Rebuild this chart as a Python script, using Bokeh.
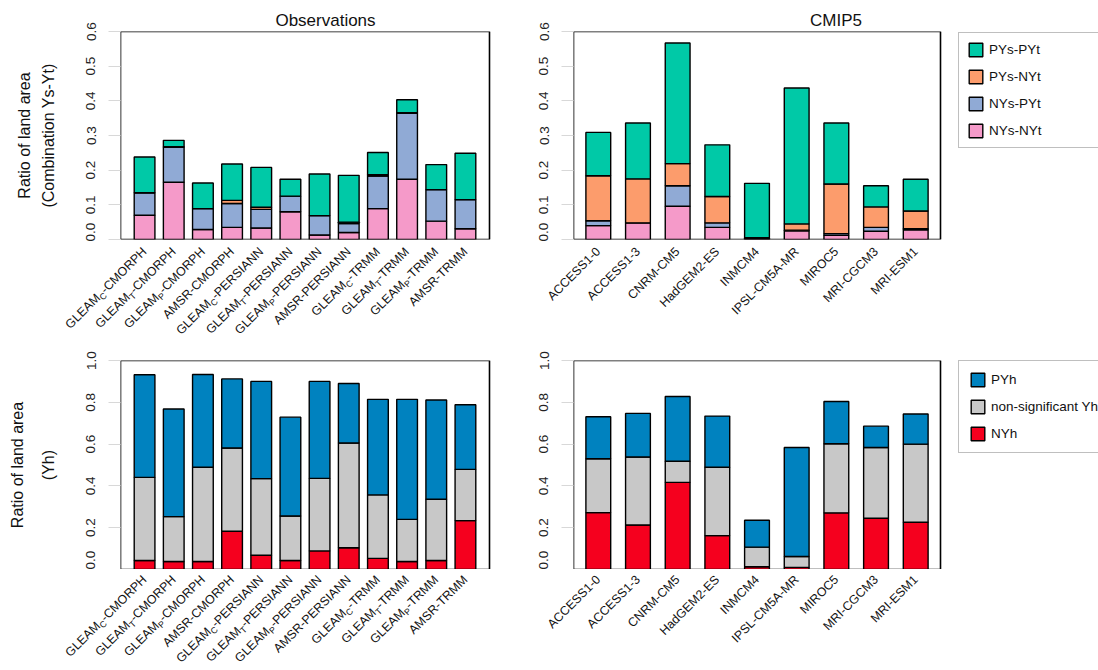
import math
from bokeh.plotting import figure
from bokeh.models import (ColumnDataSource, Range1d, FixedTicker, LabelSet, Legend,
                          LegendItem, PrintfTickFormatter)
from bokeh.layouts import column, row
from bokeh.core.properties import value
from bokeh.embed import file_html
from bokeh.resources import INLINE

# ---------------- data ----------------
obs_labels = ["GLEAM_C-CMORPH", "GLEAM_T-CMORPH", "GLEAM_P-CMORPH", "AMSR-CMORPH",
              "GLEAM_C-PERSIANN", "GLEAM_T-PERSIANN", "GLEAM_P-PERSIANN", "AMSR-PERSIANN",
              "GLEAM_C-TRMM", "GLEAM_T-TRMM", "GLEAM_P-TRMM", "AMSR-TRMM"]
cmip_labels = ["ACCESS1-0", "ACCESS1-3", "CNRM-CM5", "HadGEM2-ES", "INMCM4",
               "IPSL-CM5A-MR", "MIROC5", "MRI-CGCM3", "MRI-ESM1"]

combo_names = ["NYs-NYt", "NYs-PYt", "PYs-NYt", "PYs-PYt"]          # stacking order (bottom -> top)
combo_colors = ["#F59AC9", "#90AAD5", "#FC9C6C", "#00C9A7"]

obs_nys_nyt = [0.070, 0.165, 0.029, 0.035, 0.033, 0.080, 0.013, 0.020, 0.089, 0.174, 0.053, 0.031]
obs_nys_pyt = [0.065, 0.101, 0.060, 0.069, 0.054, 0.045, 0.056, 0.026, 0.094, 0.190, 0.091, 0.084]
obs_pys_nyt = [0.000, 0.002, 0.000, 0.009, 0.006, 0.000, 0.000, 0.004, 0.004, 0.002, 0.000, 0.000]
obs_pys_pyt = [0.103, 0.018, 0.074, 0.105, 0.115, 0.049, 0.120, 0.135, 0.064, 0.037, 0.072, 0.134]

cmip_nys_nyt = [0.040, 0.048, 0.096, 0.035, 0.003, 0.025, 0.012, 0.024, 0.028]
cmip_nys_pyt = [0.014, 0.000, 0.059, 0.013, 0.000, 0.002, 0.005, 0.011, 0.003]
cmip_pys_nyt = [0.130, 0.127, 0.064, 0.076, 0.002, 0.018, 0.143, 0.059, 0.051]
cmip_pys_pyt = [0.125, 0.161, 0.348, 0.149, 0.157, 0.392, 0.176, 0.061, 0.092]

yh_names = ["NYh", "non-significant Yh", "PYh"]                         # stacking order (bottom -> top)
yh_colors = ["#F5001E", "#C8C8C8", "#0082BF"]

obs_nyh = [0.043, 0.038, 0.038, 0.183, 0.068, 0.043, 0.089, 0.104, 0.053, 0.038, 0.043, 0.234]
obs_nsig = [0.398, 0.215, 0.451, 0.398, 0.367, 0.213, 0.347, 0.501, 0.304, 0.202, 0.293, 0.245]
obs_pyh = [0.491, 0.515, 0.444, 0.331, 0.465, 0.473, 0.464, 0.285, 0.457, 0.574, 0.475, 0.309]

cmip_nyh = [0.272, 0.213, 0.417, 0.162, 0.013, 0.010, 0.271, 0.245, 0.226]
cmip_nsig = [0.258, 0.325, 0.101, 0.327, 0.094, 0.052, 0.331, 0.339, 0.374]
cmip_pyh = [0.201, 0.209, 0.310, 0.245, 0.129, 0.522, 0.202, 0.102, 0.144]

top_ticks = [0.0, 0.1, 0.2, 0.3, 0.4, 0.5, 0.6]
bottom_ticks = [0.0, 0.2, 0.4, 0.6, 0.8, 1.0]

# ---------------- layout geometry (pixels) ----------------
FONT = "Liberation Sans"
C45 = math.cos(math.pi / 4)
LABEL_SIZE = 12.4
SUB_SIZE = 8.8
LEFT_W, RIGHT_W = 530, 568
TOP_PLOT_H, TOP_LAB_H = 241, 97
BOT_PLOT_H, BOT_LAB_H = 231, 99
BOT_BT = 22
OBS_PAD, OBS_BW = 0.825, 0.71
CM_PAD, CM_BW = 0.625, 0.625
L_BL, L_FW = 120, 369          # left panels: border left, box width
R_BL, R_FW = 43, 367           # right panels: border left, box width

AW = {'-': 333, 'A': 667, 'C': 722, 'E': 667, 'G': 778, 'H': 722, 'I': 278, 'L': 556,
      'M': 833, 'N': 722, 'O': 778, 'P': 667, 'R': 722, 'S': 667, 'T': 611}


def tw(s, size):
    return sum(AW.get(ch, 556) for ch in s) * size / 1000.0


def split_label(lab):
    if "_" in lab:
        base, rest = lab.split("_", 1)
        return base, rest[0], rest[1:]
    return "", "", lab


def label_band(labels, pad, bl, fw, total_w, h, drop=8.0, s=4.0):
    n = len(labels)
    ppu = fw / (n - 1 + 2 * pad)
    x0 = -pad - bl / ppu
    x1 = x0 + total_w / ppu
    p = figure(x_range=Range1d(x0, x1), y_range=Range1d(0, h), width=total_w, height=h,
               toolbar_location=None, output_backend="svg", x_axis_location=None,
               y_axis_location=None, min_border=0)
    p.grid.visible = False
    p.outline_line_color = None
    p.background_fill_color = "white"
    p.border_fill_color = "white"
    xs = list(range(n))
    parts = [split_label(l) for l in labels]
    suf = dict(x=xs, y=[h] * n, text=[q[2] for q in parts], xo=[0.0] * n, yo=[-drop] * n)
    subx, suby, basex, basey = [], [], [], []
    for base, sub, suffix in parts:
        d1 = tw(suffix, LABEL_SIZE)
        subx.append((-d1 + s) * C45)
        suby.append(-drop + (-d1 - s) * C45)
        d2 = d1 + tw(sub, SUB_SIZE)
        basex.append(-d2 * C45)
        basey.append(-drop - d2 * C45)
    subd = dict(x=xs, y=[h] * n, text=[q[1] for q in parts], xo=subx, yo=suby)
    based = dict(x=xs, y=[h] * n, text=[q[0] for q in parts], xo=basex, yo=basey)
    for d, size in ((suf, LABEL_SIZE), (subd, SUB_SIZE), (based, LABEL_SIZE)):
        ls = LabelSet(x="x", y="y", text="text", x_offset="xo", y_offset="yo",
                      angle=math.pi / 4, text_align="right", text_baseline="middle",
                      text_font=value(FONT), text_font_size=value(f"{size}px"),
                      text_color="#111111", source=ColumnDataSource(d))
        p.add_layout(ls)
    return p


def make_fig(n, pad, bl, fw, total_w, bt, fh, total_h, ymax, ticks, title=None,
             title_offset=0, ylabel=None, ylabel_lh=1.4):
    ppu = fw / (n - 1 + 2 * pad)
    frame_w = total_w - bl
    x0 = -pad
    x1 = x0 + frame_w / ppu
    kw = dict(x_range=Range1d(x0, x1), y_range=Range1d(0, ymax),
              frame_width=frame_w, frame_height=fh, toolbar_location=None,
              output_backend="svg", x_axis_location=None, min_border_left=bl,
              min_border_right=0, min_border_top=bt, min_border_bottom=total_h - bt - fh)
    if title:
        kw["title"] = title
    p = figure(**kw)
    p.grid.visible = False
    p.outline_line_color = None
    p.background_fill_color = "white"
    p.border_fill_color = "white"
    # plot box spanning the category extent and the value range
    p.quad(left=[-pad], right=[n - 1 + pad], bottom=[0], top=[ymax], fill_color=None,
           line_color="black", line_width=1.6)
    if title:
        p.title.align = "center"
        p.title.offset = title_offset
        p.title.text_font = FONT
        p.title.text_font_size = "17px"
        p.title.text_font_style = "normal"
        p.title.text_color = "#111111"
        p.title.standoff = 4
    ax = p.yaxis[0]
    ax.ticker = FixedTicker(ticks=ticks)
    ax.formatter = PrintfTickFormatter(format="%.1f")
    ax.major_label_orientation = "vertical"
    ax.axis_line_color = None
    ax.major_tick_line_color = "#d8d8d8"
    ax.major_tick_out = 12
    ax.major_tick_in = 0
    ax.minor_tick_line_color = None
    ax.major_label_standoff = 13
    ax.major_label_text_font = FONT
    ax.major_label_text_font_size = "13.5px"
    ax.major_label_text_color = "#222222"
    if ylabel:
        ax.axis_label = ylabel
        ax.axis_label_text_font = FONT
        ax.axis_label_text_font_size = "16px"
        ax.axis_label_text_font_style = "normal"
        ax.axis_label_text_color = "#111111"
        ax.axis_label_standoff = 27
        ax.axis_label_text_line_height = ylabel_lh
    return p


def add_bars(p, n, width, names, colors, series):
    data = {"x": list(range(n))}
    for nm, vals in zip(names, series):
        data[nm] = vals
    src = ColumnDataSource(data)
    return p.vbar_stack(names, x="x", width=width, color=colors, line_color="black",
                        line_width=1.4, source=src)


def add_legend(p, renderers, names, loc, padding):
    items = [LegendItem(label=nm, renderers=[r]) for nm, r in zip(names, renderers)]
    items = items[::-1]
    lg = Legend(items=items, location=loc, orientation="vertical", glyph_width=17,
                glyph_height=17, label_height=17, spacing=10, padding=padding, margin=0,
                label_standoff=5, label_width=170, border_line_color="#808080",
                border_line_width=1, label_text_font=FONT, label_text_font_size="13.5px",
                label_text_color="#111111", background_fill_color="white",
                background_fill_alpha=1.0)
    p.add_layout(lg)


n_obs = len(obs_labels)
n_cm = len(cmip_labels)

# top-left
p1 = make_fig(n_obs, OBS_PAD, L_BL, L_FW, LEFT_W, 31, 208, TOP_PLOT_H, 0.6, top_ticks,
              title="Observations", title_offset=-7,
              ylabel="Ratio of land area\n(Combination Ys-Yt)", ylabel_lh=1.4)
add_bars(p1, n_obs, OBS_BW, combo_names, combo_colors,
         [obs_nys_nyt, obs_nys_pyt, obs_pys_nyt, obs_pys_pyt])
l1 = label_band(obs_labels, OBS_PAD, L_BL, L_FW, LEFT_W, TOP_LAB_H)

# top-right
p2 = make_fig(n_cm, CM_PAD, R_BL, R_FW, RIGHT_W, 31, 208, TOP_PLOT_H, 0.6, top_ticks,
              title="CMIP5", title_offset=-86)
r2 = add_bars(p2, n_cm, CM_BW, combo_names, combo_colors,
              [cmip_nys_nyt, cmip_nys_pyt, cmip_pys_nyt, cmip_pys_pyt])
add_legend(p2, r2, combo_names, (385, 91), 8)
l2 = label_band(cmip_labels, CM_PAD, R_BL, R_FW, RIGHT_W, TOP_LAB_H)

# bottom-left
p3 = make_fig(n_obs, OBS_PAD, L_BL, L_FW, LEFT_W, BOT_BT, 209, BOT_PLOT_H, 1.0, bottom_ticks,
              ylabel="Ratio of land area\n(Yh)", ylabel_lh=1.8)
add_bars(p3, n_obs, OBS_BW, yh_names, yh_colors, [obs_nyh, obs_nsig, obs_pyh])
l3 = label_band(obs_labels, OBS_PAD, L_BL, L_FW, LEFT_W, BOT_LAB_H)

# bottom-right
p4 = make_fig(n_cm, CM_PAD, R_BL, R_FW, RIGHT_W, BOT_BT, 209, BOT_PLOT_H, 1.0, bottom_ticks)
r4 = add_bars(p4, n_cm, CM_BW, yh_names, yh_colors, [cmip_nyh, cmip_nsig, cmip_pyh])
add_legend(p4, r4, yh_names, (385, 116), 10)
l4 = label_band(cmip_labels, CM_PAD, R_BL, R_FW, RIGHT_W, BOT_LAB_H)

layout = column(row(p1, p2, spacing=0), row(l1, l2, spacing=0),
                row(p3, p4, spacing=0), row(l3, l4, spacing=0), spacing=0)

with open("out.html", "w") as f:
    f.write(file_html(layout, INLINE))
